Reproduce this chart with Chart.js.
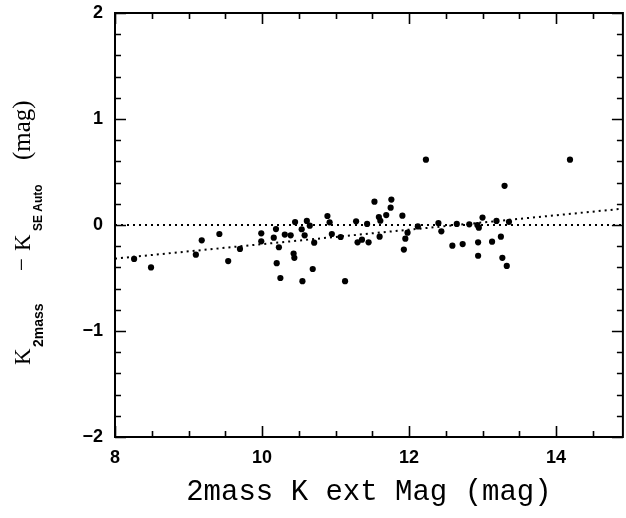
<!DOCTYPE html>
<html><head><meta charset="utf-8">
<script src="https://cdn.jsdelivr.net/npm/chart.js@4/dist/chart.umd.min.js"></script>
<style>html,body{margin:0;padding:0;background:#fff}</style>
</head><body>
<canvas id="c" width="626" height="518"></canvas>
<script>
// 2MASS K ext magnitude (x) and K_2mass - K_SE Auto (y)
const magK = [8.26,8.49,9.10,9.18,9.42,9.54,9.70,9.99,9.99,10.16,10.19,10.20,10.23,10.25,10.31,10.39,10.43,10.44,10.45,10.54,10.55,10.58,10.61,10.65,10.69,10.71,10.89,10.92,10.95,11.07,11.13,11.28,11.30,11.36,11.43,11.45,11.53,11.59,11.60,11.61,11.69,11.75,11.76,11.91,11.93,11.95,11.98,12.12,12.23,12.40,12.44,12.59,12.65,12.73,12.82,12.93,12.94,12.94,12.95,13.00,13.13,13.19,13.25,13.27,13.30,13.33,13.36,14.19];
const deltaK = [-0.32,-0.40,-0.28,-0.145,-0.085,-0.34,-0.226,-0.079,-0.154,-0.12,-0.038,-0.36,-0.21,-0.50,-0.09,-0.097,-0.27,-0.31,0.028,-0.04,-0.53,-0.097,0.038,-0.006,-0.415,-0.167,0.085,0.025,-0.085,-0.113,-0.53,0.035,-0.163,-0.138,0.01,-0.163,0.22,0.075,-0.11,0.04,0.094,0.163,0.24,0.088,-0.232,-0.129,-0.072,-0.013,0.616,0.019,-0.06,-0.195,0.01,-0.18,0.006,0.0,-0.163,-0.29,-0.025,0.07,-0.157,0.038,-0.11,-0.31,0.37,-0.386,0.03,0.616];
const zeroLineX = [8, 14.91];
const zeroLineY = [0, 0];
const fitLineX = [8, 14.91];
const fitLineY = [-0.317, 0.154];
const xTicks = [8, 10, 12, 14];
const yTicks = [-2, -1, 0, 1, 2];
const xRange = [8, 14.91];
const yRange = [-2, 2];
const xTitle = '2mass K ext Mag (mag)';

const pts = magK.map((v, i) => ({x: v, y: deltaK[i]}));
const zeroPts = zeroLineX.map((v, i) => ({x: v, y: zeroLineY[i]}));
const fitPts = fitLineX.map((v, i) => ({x: v, y: fitLineY[i]}));

const framePlugin = {
  id: 'frame',
  afterDraw(chart) {
    const ctx = chart.ctx;
    const {left, right, top, bottom} = chart.chartArea;
    const xs = chart.scales.x, ys = chart.scales.y;
    ctx.save();
    ctx.strokeStyle = '#000';
    ctx.lineWidth = 2;
    ctx.strokeRect(left, top, right - left, bottom - top);
    ctx.lineWidth = 1.6;
    ctx.beginPath();
    for (let k = 16; k <= 29; k++) {
      const v = k / 2;
      if (v > xRange[1]) break;
      const px = Math.round(xs.getPixelForValue(v)) + 0.5;
      const len = (k % 4 === 0) ? 11 : 6;
      ctx.moveTo(px, bottom); ctx.lineTo(px, bottom - len);
      ctx.moveTo(px, top); ctx.lineTo(px, top + len);
    }
    for (let k = -10; k <= 10; k++) {
      const v = k / 5;
      const py = Math.round(ys.getPixelForValue(v)) + 0.5;
      const len = (k % 5 === 0) ? 11 : 6;
      ctx.moveTo(left, py); ctx.lineTo(left + len, py);
      ctx.moveTo(right, py); ctx.lineTo(right - len, py);
    }
    ctx.stroke();

    // y-axis title with subscripts
    ctx.fillStyle = '#000';
    ctx.translate(30, 365);
    ctx.rotate(-Math.PI / 2);
    ctx.textAlign = 'left';
    ctx.textBaseline = 'alphabetic';
    ctx.font = '23px "Liberation Serif"';
    ctx.fillText('K', 0, 0);
    ctx.font = 'bold 14px "Liberation Sans"';
    ctx.fillText('2mass', 18, 13);
    ctx.font = '23px "Liberation Serif"';
    ctx.fillText('\u2212', 94, -1);
    ctx.fillText('K', 114, 0);
    ctx.font = 'bold 12px "Liberation Sans"';
    ctx.fillText('SE Auto', 134, 12);
    ctx.font = '25px "Liberation Serif"';
    ctx.fillText('(mag)', 205, 0);
    ctx.restore();
  }
};

new Chart(document.getElementById('c'), {
  type: 'scatter',
  data: {
    datasets: [
      {data: pts, backgroundColor: '#000', borderColor: '#000', pointRadius: 3.1, pointHoverRadius: 3.1, pointStyle: 'circle', borderWidth: 0},
      {data: zeroPts, showLine: true, borderColor: '#000', borderWidth: 2, borderDash: [2, 4], pointRadius: 0, fill: false},
      {data: fitPts, showLine: true, borderColor: '#000', borderWidth: 2, borderDash: [2, 4], pointRadius: 0, fill: false}
    ]
  },
  options: {
    responsive: false,
    devicePixelRatio: 1,
    animation: false,
    layout: {padding: {top: 13, right: 1, left: 0, bottom: 0}},
    plugins: {legend: {display: false}, tooltip: {enabled: false}},
    scales: {
      x: {
        type: 'linear', min: xRange[0], max: xRange[1],
        grid: {display: false, drawTicks: false},
        border: {display: false},
        afterBuildTicks: s => { s.ticks = xTicks.map(v => ({value: v})); },
        afterFit: s => { s.height = 81; s.paddingLeft = 0; s.paddingRight = 0; },
        ticks: {padding: 10, color: '#000', font: {family: 'Liberation Sans', weight: 'bold', size: 18}},
        title: {display: true, text: xTitle, color: '#000', padding: {top: 0, bottom: 8},
          font: {family: 'Liberation Mono', size: 29, lineHeight: 1.2}}
      },
      y: {
        type: 'linear', min: yRange[0], max: yRange[1],
        grid: {display: false, drawTicks: false},
        border: {display: false},
        afterBuildTicks: s => { s.ticks = yTicks.map(v => ({value: v})); },
        afterFit: s => { s.width = 115; s.paddingTop = 0; s.paddingBottom = 0; },
        ticks: {padding: 12, color: '#000', font: {family: 'Liberation Sans', weight: 'bold', size: 18},
          callback: v => (v < 0 ? '\u2212' + Math.abs(v) : String(v))}
      }
    }
  },
  plugins: [framePlugin]
});
</script>
</body></html>
